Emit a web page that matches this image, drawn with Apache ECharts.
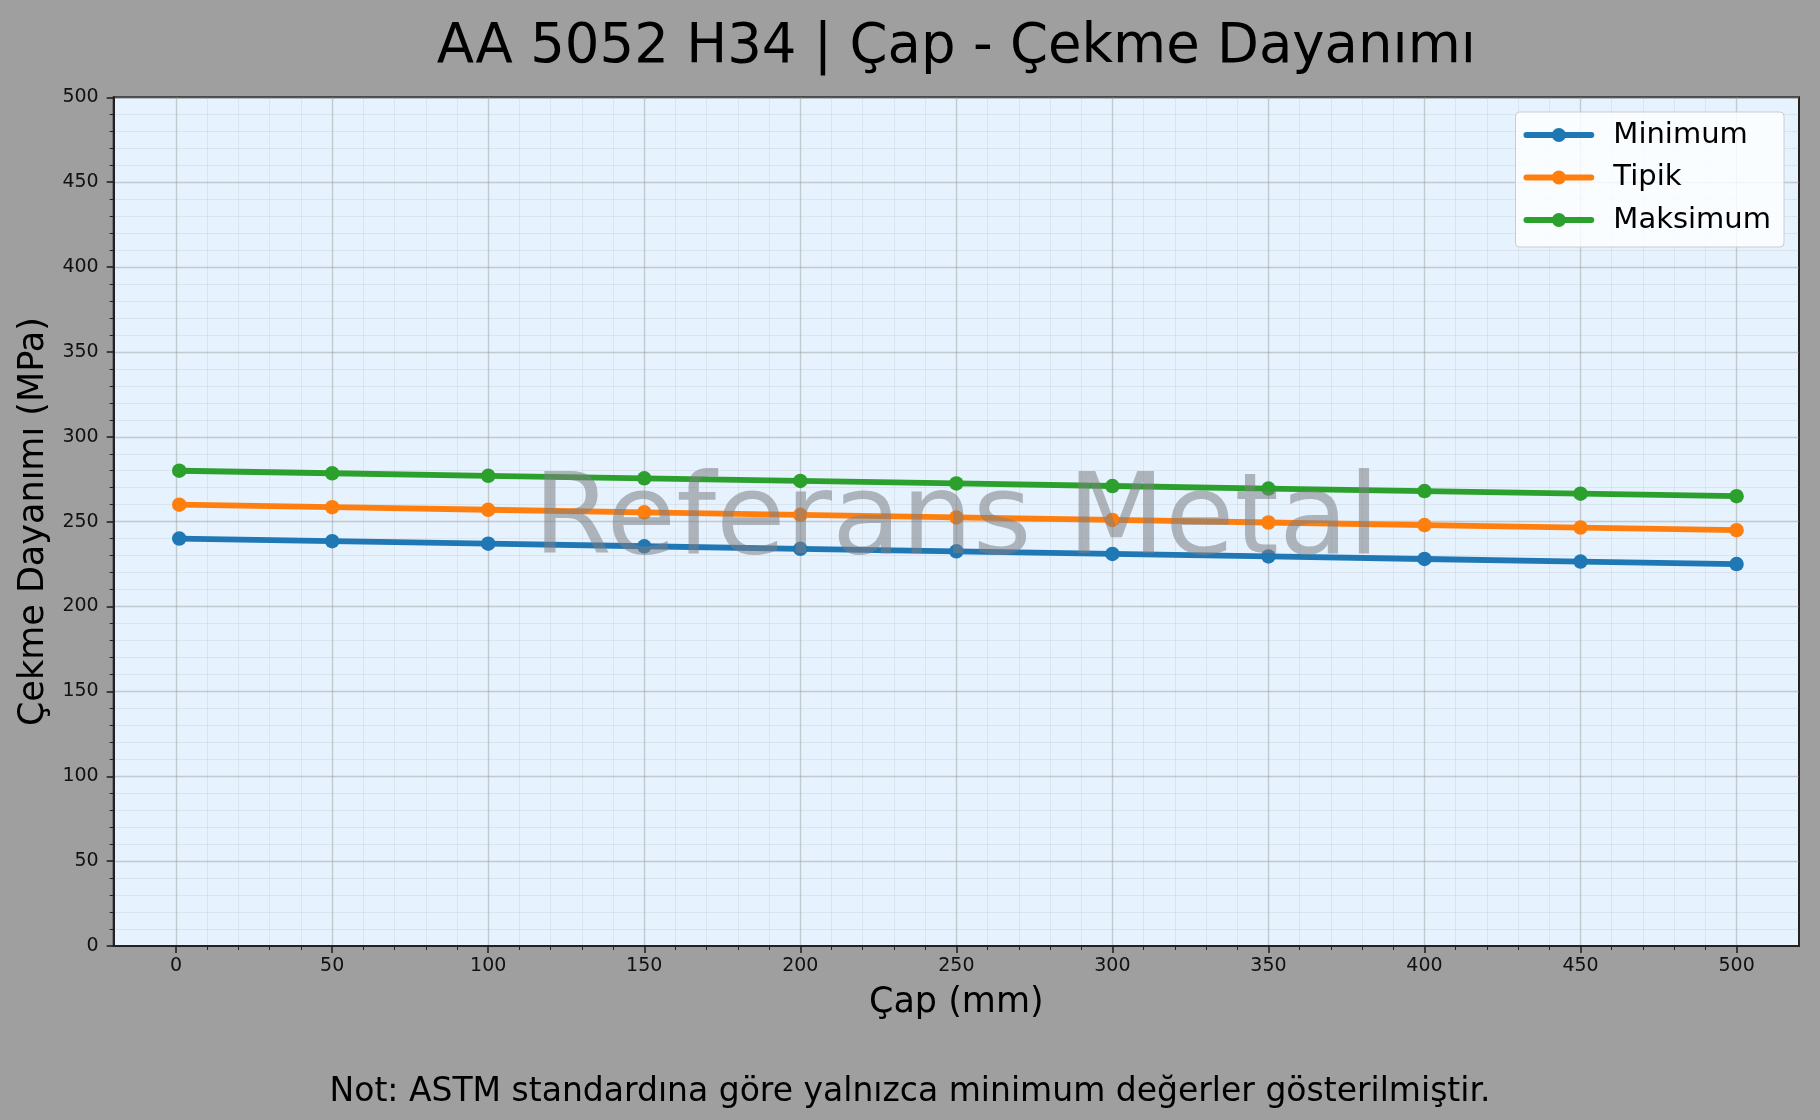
<!DOCTYPE html>
<html>
<head>
<meta charset="utf-8">
<script src="https://cdn.jsdelivr.net/npm/echarts@6/dist/echarts.min.js"></script>
<style>
html,body{margin:0;padding:0;background:#9f9f9f;}
#chart{width:1820px;height:1120px;}
</style>
</head>
<body>
<div id="chart"></div>
<script>
// ---- data ----
const diameters = [1, 50, 100, 150, 200, 250, 300, 350, 400, 450, 500];
const minimumValues = [240, 238.5, 237, 235.5, 234, 232.5, 231, 229.5, 228, 226.5, 225];
const tipikValues = [260, 258.5, 257, 255.5, 254, 252.5, 251, 249.5, 248, 246.5, 245];
const maksimumValues = [280, 278.5, 277, 275.5, 274, 272.5, 271, 269.5, 268, 266.5, 265];
const seriesNames = ['Minimum', 'Tipik', 'Maksimum'];
const xTickLabels = [0, 50, 100, 150, 200, 250, 300, 350, 400, 450, 500];
const xMinorTicks = [];
for (let i = 0; i < xTickLabels.length - 1; i++) {
  for (let k = 1; k < 5; k++) xMinorTicks.push(xTickLabels[i] + k * 10);
}
const titleText = 'AA 5052 H34 | Çap - Çekme Dayanımı';
const xName = 'Çap (mm)';
const yName = 'Çekme Dayanımı (MPa)';
const noteText = 'Not: ASTM standardına göre yalnızca minimum değerler gösterilmiştir.';
const watermarkText = 'Referans Metal';

const FONT = 'DejaVu Sans';
const colors = ['#1f77b4', '#ff7f0e', '#2ca02c'];
const seriesValues = [minimumValues, tipikValues, maksimumValues];

const G = {left: 113.7, top: 97.3, right: 1799, bottom: 946};
const cx = (G.left + G.right) / 2;
const cy = (G.top + G.bottom) / 2;

const chart = echarts.init(document.getElementById('chart'), null, {renderer: 'canvas'});

const majorGrid = {color: 'rgba(150,150,150,0.45)', width: 1.4};
const minorGrid = {color: 'rgba(150,150,150,0.15)', width: 1};

const option = {
  animation: false,
  backgroundColor: '#9f9f9f',
  textStyle: {fontFamily: FONT},
  grid: {
    left: G.left, top: G.top, width: G.right - G.left, height: G.bottom - G.top,
    show: true, backgroundColor: '#e6f2fe', borderColor: '#222', borderWidth: 2,
    containLabel: false, outerBoundsMode: 'none'
  },
  legend: {
    data: seriesNames,
    orient: 'vertical',
    right: 36, top: 112,
    padding: [8, 13, 12, 8],
    itemWidth: 65, itemHeight: 17.5, itemGap: 12.5,
    lineStyle: {width: 5.8},
    backgroundColor: 'rgba(255,255,255,0.8)',
    borderColor: '#cccccc', borderWidth: 1, borderRadius: 4,
    textStyle: {fontFamily: FONT, fontSize: 29, color: '#000', lineHeight: 30, padding: [0, 0, 0, 17]}
  },
  xAxis: [
    {
      type: 'value', min: -20, max: 520, position: 'bottom',
      name: xName, nameLocation: 'middle', nameGap: 39,
      nameTextStyle: {fontFamily: FONT, fontSize: 35, color: '#000'},
      axisLine: {show: true, onZero: false, lineStyle: {color: '#222', width: 2}},
      axisTick: {show: true, customValues: xTickLabels, length: 7, lineStyle: {color: '#222', width: 1.6}},
      axisLabel: {customValues: xTickLabels, margin: 11, fontFamily: FONT, fontSize: 19, color: '#111'},
      splitLine: {show: true, lineStyle: majorGrid}
    },
    {
      type: 'value', min: -20, max: 520, position: 'bottom',
      axisLine: {show: false, onZero: false},
      axisTick: {show: true, customValues: xMinorTicks, length: 4, lineStyle: {color: '#222', width: 1}},
      axisLabel: {show: false},
      splitLine: {show: true, lineStyle: minorGrid}
    }
  ],
  yAxis: {
    type: 'value', min: 0, max: 500, interval: 50,
    name: yName, nameLocation: 'middle', nameGap: 53,
    nameTextStyle: {fontFamily: FONT, fontSize: 35, color: '#000'},
    axisLine: {show: true, onZero: false, lineStyle: {color: '#222', width: 2}},
    axisTick: {show: true, length: 7, lineStyle: {color: '#222', width: 1.6}},
    minorTick: {show: true, splitNumber: 5, length: 4, lineStyle: {color: '#222', width: 1}},
    axisLabel: {margin: 15, fontFamily: FONT, fontSize: 19, color: '#111'},
    splitLine: {show: true, lineStyle: majorGrid},
    minorSplitLine: {show: true, lineStyle: minorGrid}
  },
  series: seriesNames.map((name, i) => ({
    name: name,
    type: 'line',
    xAxisIndex: 0,
    data: diameters.map((d, j) => [d, seriesValues[i][j]]),
    symbol: 'circle',
    symbolSize: 14.5,
    showSymbol: true,
    lineStyle: {color: colors[i], width: 5.8, cap: 'round', join: 'round'},
    itemStyle: {color: colors[i]},
    emphasis: {disabled: true},
    z: 3 + i
  })),
  graphic: [
    {
      type: 'text', silent: true, z: 1,
      style: {
        text: titleText, x: cx, y: 47.5, fontFamily: FONT, fontSize: 54.5, fill: '#000',
        textAlign: 'center', textVerticalAlign: 'middle', align: 'center', verticalAlign: 'middle'
      }
    },
    {
      type: 'text', silent: true, z: 100,
      style: {
        text: watermarkText, x: cx, y: cy + 2, fontFamily: FONT, fontSize: 113,
        fill: 'rgba(125,128,132,0.55)',
        textAlign: 'center', textVerticalAlign: 'middle', align: 'center', verticalAlign: 'middle'
      }
    },
    {
      type: 'text', silent: true, z: 1,
      style: {
        text: noteText, x: 910, y: 1092, fontFamily: FONT, fontSize: 33, fill: '#000',
        textAlign: 'center', textVerticalAlign: 'middle', align: 'center', verticalAlign: 'middle'
      }
    }
  ]
};
chart.setOption(option);
</script>
</body>
</html>
